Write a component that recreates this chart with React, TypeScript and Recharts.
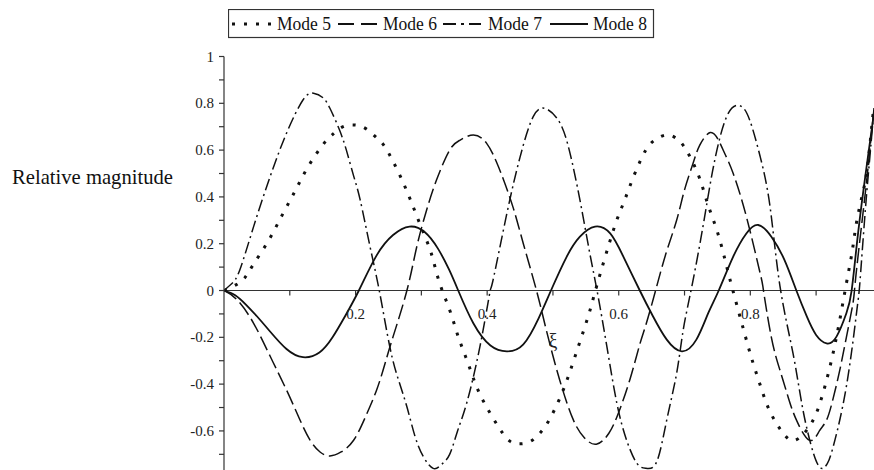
import React from 'react';
import { LineChart, Line, XAxis, YAxis, ReferenceLine, ReferenceDot } from 'recharts';

// ---------- data ----------
const mode5X = [0, 0.018, 0.032, 0.045, 0.067, 0.088, 0.108, 0.128, 0.152, 0.166, 0.181, 0.2, 0.217, 0.233, 0.246, 0.266, 0.283, 0.299, 0.315, 0.327, 0.343, 0.356, 0.371, 0.386, 0.407, 0.43, 0.447, 0.465, 0.48, 0.493, 0.512, 0.527, 0.541, 0.555, 0.567, 0.592, 0.607, 0.623, 0.641, 0.655, 0.673, 0.689, 0.702, 0.721, 0.735, 0.749, 0.761, 0.772, 0.789, 0.802, 0.815, 0.83, 0.85, 0.868, 0.89, 0.906, 0.921, 0.934, 0.946, 0.955, 0.962, 0.972, 0.979, 0.986, 0.988];
const mode5Y = [0, 0.024, 0.056, 0.113, 0.21, 0.32, 0.425, 0.53, 0.629, 0.669, 0.7, 0.707, 0.689, 0.65, 0.608, 0.5, 0.39, 0.276, 0.159, 0.038, -0.083, -0.197, -0.311, -0.425, -0.536, -0.632, -0.655, -0.646, -0.61, -0.56, -0.45, -0.337, -0.219, -0.097, 0.024, 0.259, 0.372, 0.49, 0.6, 0.643, 0.665, 0.647, 0.603, 0.494, 0.372, 0.259, 0.137, 0.016, -0.16, -0.29, -0.404, -0.518, -0.61, -0.64, -0.58, -0.48, -0.326, -0.155, 0.03, 0.17, 0.3, 0.43, 0.55, 0.74, 0.78];

const mode6X = [0, 0.02, 0.045, 0.07, 0.095, 0.115, 0.131, 0.146, 0.161, 0.178, 0.197, 0.215, 0.232, 0.245, 0.257, 0.278, 0.293, 0.308, 0.323, 0.343, 0.359, 0.379, 0.399, 0.414, 0.425, 0.44, 0.455, 0.475, 0.49, 0.51, 0.531, 0.548, 0.566, 0.585, 0.6, 0.617, 0.632, 0.642, 0.656, 0.672, 0.688, 0.7, 0.713, 0.723, 0.739, 0.752, 0.762, 0.774, 0.794, 0.815, 0.82, 0.832, 0.845, 0.858, 0.87, 0.89, 0.905, 0.916, 0.926, 0.936, 0.946, 0.956, 0.96, 0.97, 0.978, 0.986, 0.988];
const mode6Y = [0, -0.04, -0.14, -0.28, -0.425, -0.55, -0.64, -0.69, -0.707, -0.69, -0.64, -0.54, -0.425, -0.31, -0.197, 0, 0.187, 0.344, 0.472, 0.6, 0.643, 0.665, 0.63, 0.55, 0.472, 0.35, 0.2, 0, -0.17, -0.38, -0.553, -0.63, -0.657, -0.61, -0.52, -0.38, -0.23, -0.14, 0, 0.16, 0.3, 0.43, 0.544, 0.62, 0.675, 0.64, 0.58, 0.5, 0.316, 0.073, 0, -0.2, -0.34, -0.46, -0.553, -0.64, -0.6, -0.553, -0.46, -0.34, -0.2, -0.055, 0.05, 0.3, 0.5, 0.72, 0.76];

const mode7X = [0, 0.012, 0.024, 0.045, 0.07, 0.095, 0.12, 0.136, 0.15, 0.161, 0.175, 0.186, 0.197, 0.207, 0.222, 0.236, 0.252, 0.265, 0.278, 0.29, 0.303, 0.318, 0.33, 0.343, 0.355, 0.369, 0.389, 0.404, 0.409, 0.43, 0.45, 0.47, 0.49, 0.511, 0.526, 0.541, 0.556, 0.567, 0.582, 0.597, 0.612, 0.628, 0.642, 0.658, 0.673, 0.688, 0.698, 0.711, 0.728, 0.744, 0.764, 0.784, 0.799, 0.815, 0.83, 0.845, 0.865, 0.88, 0.896, 0.908, 0.917, 0.926, 0.946, 0.962, 0.967, 0.975, 0.982, 0.988];
const mode7Y = [0, 0.03, 0.088, 0.273, 0.486, 0.672, 0.814, 0.843, 0.825, 0.779, 0.69, 0.6, 0.49, 0.387, 0.187, 0, -0.24, -0.38, -0.497, -0.62, -0.71, -0.76, -0.745, -0.7, -0.6, -0.48, -0.24, -0.01, 0.045, 0.33, 0.57, 0.743, 0.776, 0.714, 0.586, 0.387, 0.159, 0, -0.24, -0.48, -0.64, -0.74, -0.76, -0.73, -0.553, -0.354, -0.169, 0.016, 0.273, 0.53, 0.743, 0.79, 0.729, 0.572, 0.358, 0.02, -0.27, -0.51, -0.696, -0.76, -0.74, -0.667, -0.41, -0.083, 0.05, 0.35, 0.58, 0.78];

const mode8X = [0, 0.017, 0.034, 0.05, 0.07, 0.095, 0.12, 0.145, 0.165, 0.184, 0.205, 0.232, 0.257, 0.282, 0.305, 0.325, 0.342, 0.356, 0.379, 0.405, 0.43, 0.455, 0.478, 0.497, 0.521, 0.541, 0.564, 0.587, 0.607, 0.632, 0.652, 0.673, 0.696, 0.718, 0.736, 0.752, 0.774, 0.794, 0.812, 0.832, 0.852, 0.87, 0.886, 0.9, 0.916, 0.931, 0.946, 0.954, 0.962, 0.972, 0.986, 0.988];
const mode8Y = [0, -0.02, -0.062, -0.11, -0.175, -0.25, -0.285, -0.265, -0.2, -0.11, 0, 0.15, 0.237, 0.273, 0.25, 0.18, 0.09, 0, -0.14, -0.235, -0.26, -0.23, -0.12, 0, 0.145, 0.23, 0.273, 0.244, 0.145, 0, -0.11, -0.21, -0.26, -0.21, -0.097, 0, 0.145, 0.244, 0.28, 0.23, 0.13, 0, -0.112, -0.19, -0.226, -0.197, -0.097, 0, 0.2, 0.43, 0.72, 0.76];

const seriesNames = ['Mode 5', 'Mode 6', 'Mode 7', 'Mode 8'];
const yTicks = [-0.7, -0.6, -0.5, -0.4, -0.3, -0.2, -0.1, 0, 0.1, 0.2, 0.3, 0.4, 0.5, 0.6, 0.7, 0.8, 0.9, 1];
const yTickLabels = ['', '-0.6', '', '-0.4', '', '-0.2', '', '0', '', '0.2', '', '0.4', '', '0.6', '', '0.8', '', '1'];
const xTicks = [0.1, 0.2, 0.3, 0.4, 0.5, 0.6, 0.7, 0.8, 0.9];
const xTickLabels = ['', '0.2', '', '0.4', '', '0.6', '', '0.8', ''];

const toRows = (xs: number[], ys: number[]) => xs.map((x, i) => ({ x, y: ys[i] }));
const mode5 = toRows(mode5X, mode5Y);
const mode6 = toRows(mode6X, mode6Y);
const mode7 = toRows(mode7X, mode7Y);
const mode8 = toRows(mode8X, mode8Y);

const FONT = "'Liberation Serif', serif";
const INK = '#111';
const serifStyle = { fontFamily: FONT };

const styles = [
  { dash: '3 9', width: 3 },
  { dash: '15 5', width: 1.5 },
  { dash: '12 4 2 4', width: 1.5 },
  { dash: undefined as string | undefined, width: 1.8 },
];

const YTick = (props: any) => {
  const { x, y, index } = props;
  const label = yTickLabels[index] ?? '';
  return (
    <g>
      <line x1={x - 5} x2={x} y1={y} y2={y} stroke="#333" strokeWidth={1.2} />
      {label !== '' && (
        <text x={x - 10} y={y + 5} textAnchor="end" fontFamily={FONT} style={serifStyle} fontSize={15} fill="#222">
          {label}
        </text>
      )}
    </g>
  );
};

const makeXTick = (label: string) => (p: any) => (
  <g>
    <line x1={p.cx} x2={p.cx} y1={p.cy} y2={p.cy + 5} stroke="#333" strokeWidth={1.2} />
    {label !== '' && (
      <text x={p.cx} y={p.cy + 28} textAnchor="middle" fontFamily={FONT} style={serifStyle} fontSize={15} fill="#222">
        {label}
      </text>
    )}
  </g>
);

const xiLabel = (p: any) => (
  <text x={p.cx} y={p.cy + 57} textAnchor="middle" fontFamily={FONT} style={serifStyle} fontSize={20} fill="#222">
    ξ
  </text>
);

const LegendBox = () => {
  const samples = [
    { x1: 4, x2: 46, ...styles[0] },
    { x1: 110, x2: 149, dash: '16 7', width: 2 },
    { x1: 215, x2: 253, dash: '13 5 3 5', width: 2 },
    { x1: 322, x2: 360, dash: undefined as string | undefined, width: 2 },
  ];
  const textX = [49, 155, 260, 365];
  return (
    <svg width={427} height={30} style={{ display: 'block' }}>
      <rect x={0.5} y={0.5} width={425} height={28} fill="#fff" stroke="#333" strokeWidth={1.2} />
      {samples.map((s, i) => (
        <g key={i}>
          <line x1={s.x1} x2={s.x2} y1={15} y2={15} stroke={INK} strokeWidth={s.width} strokeDasharray={s.dash} />
          <text x={textX[i]} y={21} fontFamily={FONT} style={serifStyle} fontSize={19} textLength={54} lengthAdjust="spacingAndGlyphs" fill={INK}>
            {seriesNames[i]}
          </text>
        </g>
      ))}
    </svg>
  );
};

export default function App() {
  const data = [mode5, mode6, mode7, mode8];
  return (
    <div style={{ position: 'absolute', left: 0, top: 0, width: 874, height: 470, background: '#fff', overflow: 'hidden', fontFamily: FONT }}>
      <LineChart width={874} height={470} margin={{ top: 56.5, right: 0, bottom: 0, left: 0 }}>
        <XAxis dataKey="x" type="number" domain={[0, 0.988]} allowDataOverflow hide />
        <YAxis
          type="number"
          domain={[-0.767, 1]}
          allowDataOverflow
          width={224}
          ticks={yTicks}
          interval={0}
          tickSize={0}
          tickMargin={0}
          tickLine={false}
          axisLine={{ stroke: '#333', strokeWidth: 1.2 }}
          tick={<YTick />}
        />
        <ReferenceLine y={0} stroke="#333" strokeWidth={1.2} />
        {xTicks.map((v, i) => (
          <ReferenceDot key={v} x={v} y={0} r={0} ifOverflow="visible" shape={makeXTick(xTickLabels[i])} />
        ))}
        <ReferenceDot x={0.5} y={0} r={0} ifOverflow="visible" shape={xiLabel} />
        {data.map((d, i) => (
          <Line
            key={seriesNames[i]}
            data={d}
            dataKey="y"
            name={seriesNames[i]}
            type="natural"
            stroke={INK}
            strokeWidth={styles[i].width}
            strokeDasharray={styles[i].dash}
            dot={false}
            activeDot={false}
            isAnimationActive={false}
          />
        ))}
      </LineChart>
      <div style={{ position: 'absolute', left: 228, top: 9, width: 427, height: 30 }}>
        <LegendBox />
      </div>
      <svg width={200} height={40} style={{ position: 'absolute', left: 0, top: 160 }}>
        <text x={12} y={24} fontFamily={FONT} style={serifStyle} fontSize={21} textLength={161} lengthAdjust="spacingAndGlyphs" fill={INK}>
          Relative magnitude
        </text>
      </svg>
    </div>
  );
}
